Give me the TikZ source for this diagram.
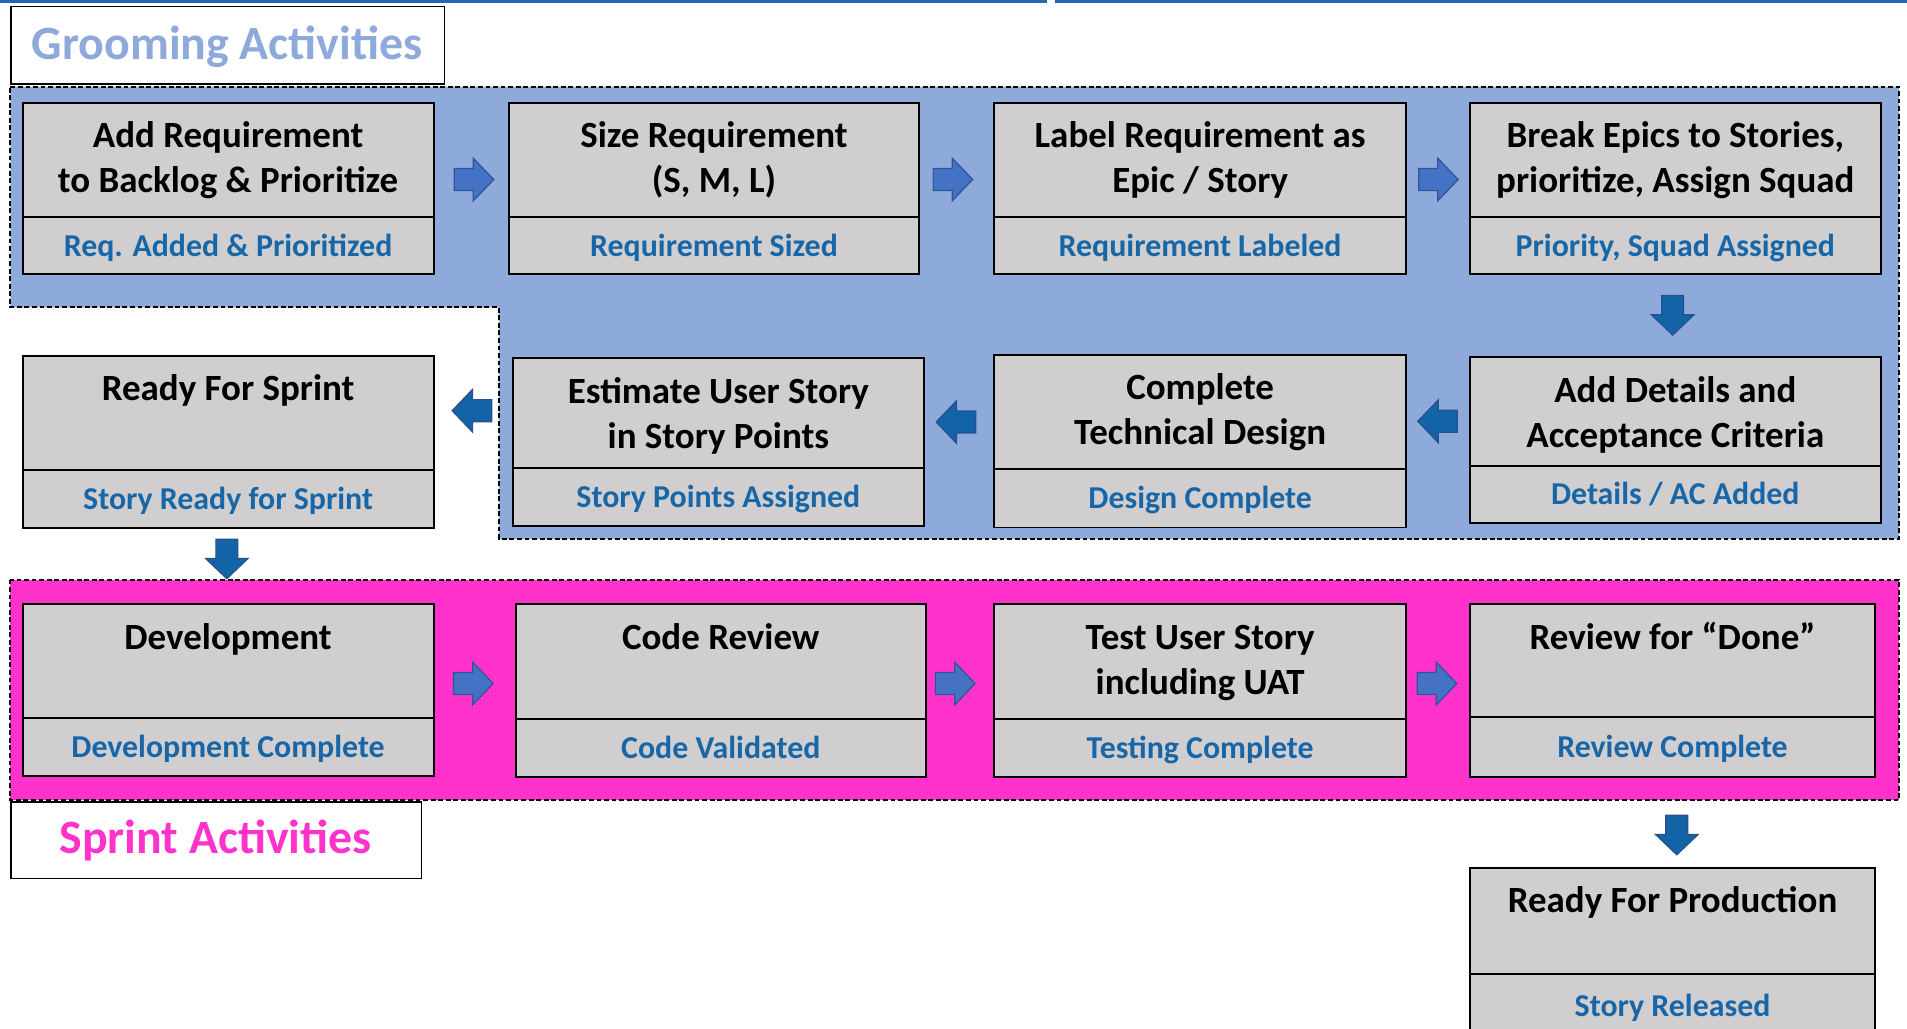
\documentclass[tikz,border=0pt]{standalone}
\usepackage{fontspec}
\setmainfont{Carlito}
\usetikzlibrary{calc}
\definecolor{boxgray}{RGB}{208,206,206}
\definecolor{groomfill}{RGB}{142,170,219}
\definecolor{sprintfill}{RGB}{255,51,204}
\definecolor{lbltext}{RGB}{23,103,168}
\definecolor{topblue}{RGB}{31,106,172}
\definecolor{arrlight}{RGB}{68,114,196}
\definecolor{arrlightedge}{RGB}{47,85,151}
\definecolor{arrdark}{RGB}{18,100,166}
\definecolor{arrdarkedge}{RGB}{40,80,140}
\definecolor{groomtext}{RGB}{142,169,219}
\tikzset{
  stg/.style={draw=black, line width=1.6pt, fill=boxgray, rectangle, inner sep=0pt, outer sep=0pt},
  divl/.style={draw=black, line width=1.6pt},
  ttl/.style={inner sep=0pt, align=center, text=black, font=\bfseries\fontsize{30.4}{37}\selectfont},
  lbl/.style={inner sep=0pt, text=lbltext, font=\bfseries\fontsize{26.2}{31}\selectfont},
  region/.style={draw=black, line width=1.6pt, dash pattern=on 4pt off 2.2pt},
  headbox/.style={draw=black, line width=1.3pt, fill=white},
  headtxt/.style={inner sep=0pt, font=\bfseries\fontsize{39.3}{47}\selectfont},
  larrow/.style={fill=arrlight, draw=arrlightedge, line width=1pt},
  darrow/.style={fill=arrdark, draw=arrdarkedge, line width=1pt},
  blockarrow/.pic={\path[pic actions] (-16.25,-9) -- (-0.5,-9) -- (-0.5,-17.5) -- (16.25,0) -- (-0.5,17.5) -- (-0.5,9) -- (-16.25,9) -- cycle;}
}
\newcommand\stagebox[8]{%
  \node[stg, minimum width={#4-#2}, minimum height={#5-#3}, anchor=north west] (#1) at (#2,#3) {};
  \draw[divl] (#2,#6) -- (#4,#6);
  \node[ttl, anchor=north] (#1t) at ({(#2+#4)/2},{#3+11}) {\strut #7};
  \node[lbl, anchor=base] (#1l) at ({(#2+#4)/2},{(#6+#5)/2+8.5}) {#8};
}
\begin{document}
\begin{tikzpicture}[x=1pt,y=-1pt]
\useasboundingbox (0,0) rectangle (1568,846);
\clip (0,0) rectangle (1568,846);
% top rule
\fill[topblue] (0,0) rectangle (860.7,2.8);
\fill[topblue] (867.7,0) rectangle (1568,2.8);
% regions
\path[region, fill=groomfill] (8.6,71.5) -- (1561.4,71.5) -- (1561.4,443) -- (410.4,443) -- (410.4,252.8) -- (8.6,252.8) -- cycle;
\path[region, fill=sprintfill] (8.6,476.5) rectangle (1561.4,658);
% region titles
\node[headbox, minimum width=356.4pt, minimum height=63.4pt, anchor=north west] (groomhead) at (8.6,4.8) {};
\node[headtxt, text=groomtext, anchor=base] (groomtitle) at (186.8,48.8) {Grooming Activities};
\node[headbox, minimum width=337.4pt, minimum height=63.1pt, anchor=north west] (sprinthead) at (8.6,658.6) {};
\node[headtxt, text=sprintfill, anchor=base] (sprinttitle) at (177.3,701.6) {Sprint Activities};
% row 1
\stagebox{b1}{18.6}{84.5}{356.5}{225.5}{178.5}{Add Requirement\\to Backlog \& Prioritize}{Req. Added \& Prioritized}
\stagebox{b2}{418.4}{84.5}{755.8}{225.5}{178.5}{Size Requirement\\(S, M, L)}{Requirement Sized}
\stagebox{b3}{817.4}{84.5}{1156.2}{225.5}{178.5}{Label Requirement as\\Epic / Story}{Requirement Labeled}
\stagebox{b4}{1208.5}{84.5}{1546.5}{225.5}{178.5}{Break Epics to Stories,\\prioritize, Assign Squad}{Priority, Squad Assigned}
% row 2
\stagebox{c1}{18.6}{292.5}{356.5}{434}{386.5}{Ready For Sprint}{Story Ready for Sprint}
\stagebox{c2}{421.5}{294.5}{759.8}{432.3}{385}{Estimate User Story\\in Story Points}{Story Points Assigned}
\stagebox{c3}{817.4}{291.6}{1156.2}{433.7}{385.9}{Complete\\Technical Design}{Design Complete}
\stagebox{c4}{1208.5}{293.6}{1546.5}{430.4}{383}{Add Details and\\Acceptance Criteria}{Details / AC Added}
% row 3
\stagebox{d1}{18.6}{496.6}{356.5}{638.2}{590.4}{Development}{Development Complete}
\stagebox{d2}{424}{496.6}{761.3}{638.6}{591}{Code Review}{Code Validated}
\stagebox{d3}{817.4}{496.6}{1156.2}{638.6}{591}{Test User Story\\including UAT}{Testing Complete}
\stagebox{d4}{1209}{496.6}{1541.4}{638.6}{589.8}{Review for “Done”}{Review Complete}
% production
\stagebox{e1}{1209}{713.4}{1541.4}{853}{800.9}{Ready For Production}{Story Released}
% arrows
\coordinate (a12) at (389.7,147.6);
\coordinate (a23) at (783.5,147.6);
\coordinate (a34) at (1182.7,147.6);
\coordinate (a4c) at (1375.3,259.3);
\coordinate (ac43) at (1182,346.4);
\coordinate (ac32) at (786,347);
\coordinate (ac21) at (388,337.7);
\coordinate (ac1d) at (186.5,459.6);
\coordinate (ad12) at (389.2,562);
\coordinate (ad23) at (785.5,562);
\coordinate (ad34) at (1181.5,562);
\coordinate (ad4e) at (1378.7,686.6);
\pic[larrow] at (a12) {blockarrow};
\pic[larrow] at (a23) {blockarrow};
\pic[larrow] at (a34) {blockarrow};
\pic[darrow, rotate=-90] at (a4c) {blockarrow};
\pic[darrow, rotate=180] at (ac43) {blockarrow};
\pic[darrow, rotate=180] at (ac32) {blockarrow};
\pic[darrow, rotate=180] at (ac21) {blockarrow};
\pic[darrow, rotate=-90] at (ac1d) {blockarrow};
\pic[larrow] at (ad12) {blockarrow};
\pic[larrow] at (ad23) {blockarrow};
\pic[larrow] at (ad34) {blockarrow};
\pic[darrow, rotate=-90] at (ad4e) {blockarrow};
\end{tikzpicture}
\end{document}
